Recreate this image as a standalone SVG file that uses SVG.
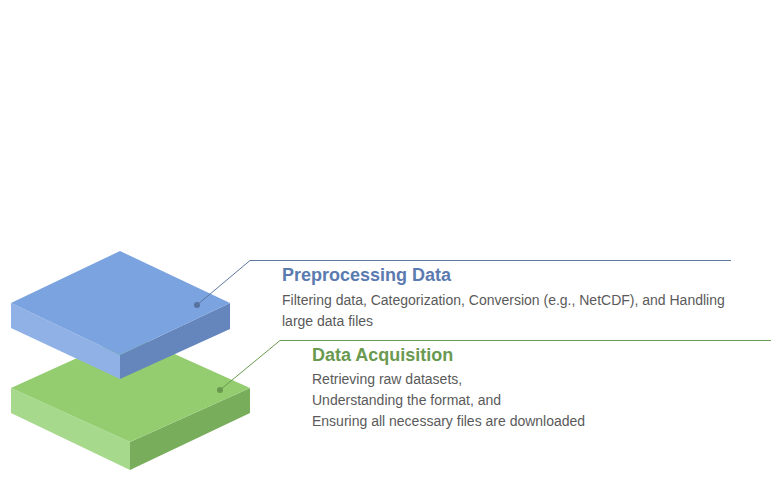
<svg xmlns="http://www.w3.org/2000/svg" width="782" height="480" viewBox="0 0 782 480">
<style>
.title{font-family:"Liberation Sans",Arial,sans-serif;font-weight:bold;font-size:18px}
.body{font-family:"Liberation Sans",Arial,sans-serif;font-size:14px;fill:#5a5a5a}
.lead{fill:none;stroke-width:1}
</style>
<rect width="782" height="480" fill="#ffffff"/>
<g id="layer-acquisition">
<polygon points="11,388 130,442 130,470 11,413" fill="#a6d98b"/>
<polygon points="130,442 250,388 250,413 130,470" fill="#78ad5b"/>
<polygon points="130,334 250,388 130,442 11,388" fill="#93cd6f"/>
<circle cx="220" cy="390" r="3" fill="#6a9a50"/>
</g>
<g id="layer-preprocessing">
<polygon points="11,303 120,355 120,379 11,328" fill="#8fb1e6"/>
<polygon points="120,355 230,303 230,329 120,379" fill="#6585bd"/>
<polygon points="120,251 230,303 120,355 11,303" fill="#7aa3df"/>
<circle cx="197" cy="305" r="3" fill="#56729f"/>
</g>
<g id="connectors">
<polyline class="lead" points="197,305 250,260.5 731,260.5" stroke="#5d779e"/>
<polyline class="lead" points="220,390 280,340.5 771,340.5" stroke="#6a9a50"/>
</g>
<g id="label-preprocessing">
<text class="title" x="282" y="281" fill="#5b7bb0">Preprocessing Data</text>
<text class="body" x="282" y="305">Filtering data, Categorization, Conversion (e.g., NetCDF), and Handling</text>
<text class="body" x="282" y="326">large data files</text>
</g>
<g id="label-acquisition">
<text class="title" x="312" y="361" fill="#6a9a50">Data Acquisition</text>
<text class="body" x="312" y="384">Retrieving raw datasets,</text>
<text class="body" x="312" y="405">Understanding the format, and</text>
<text class="body" x="312" y="426">Ensuring all necessary files are downloaded</text>
</g>
</svg>
